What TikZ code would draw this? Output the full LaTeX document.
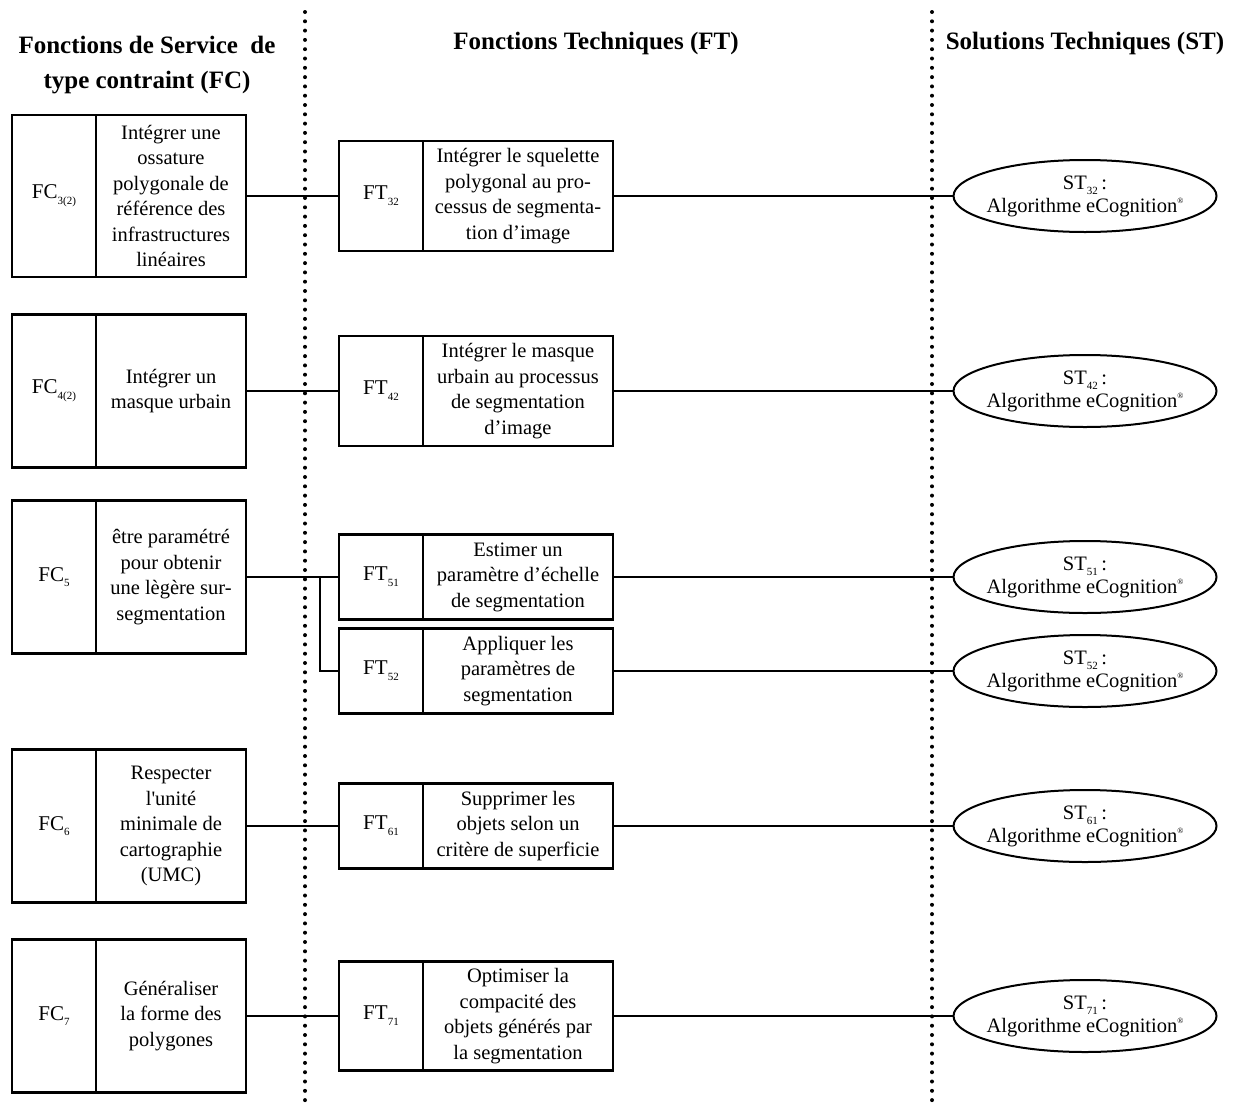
\documentclass[tikz,border=0pt]{standalone}
\usepackage{fontspec}
\setmainfont{Liberation Serif}
\usetikzlibrary{shapes.geometric, positioning}

\newcommand{\lowix}[1]{\raisebox{-0.6ex}{\fontsize{11}{11}\selectfont #1}}
\newcommand{\upreg}{\raisebox{0.9ex}{\fontsize{8}{8}\selectfont\textregistered}}

\begin{document}
\begin{tikzpicture}[x=1pt,y=-1pt,
    idbox/.style={draw, line width=2.6pt, minimum width=84pt, inner sep=0pt, font=\fontsize{21}{25}\selectfont},
    fcbox/.style={draw, line width=2.6pt, minimum width=150pt, inner sep=0pt, align=center, font=\fontsize{20.5}{25.5}\selectfont},
    ftbox/.style={draw, line width=2.6pt, minimum width=190pt, inner sep=0pt, align=center, font=\fontsize{20.5}{25.5}\selectfont},
    stell/.style={draw, ellipse, line width=2pt, minimum width=263pt, minimum height=72pt, inner xsep=-8pt, inner ysep=0pt, align=center, font=\fontsize{20.5}{23}\selectfont},
    head/.style={align=center, font=\bfseries\fontsize{25}{35}\selectfont},
    link/.style={line width=1.8pt},
    sep/.style={line width=4pt, line cap=round, dash pattern=on 0pt off 9.3pt}]
    \useasboundingbox (0,0) rectangle (1243,1106);

    % column separators
    \draw[sep] (305,12) -- (305,1106);
    \draw[sep] (932,12) -- (932,1106);

    % headings
    \node[head] (hfc) at (147,65) {Fonctions de Service \ de\\type contraint (FC)};
    \node[head] (hft) at (596,43) {Fonctions Techniques (FT)};
    \node[head] (hst) at (1085,43) {Solutions Techniques (ST)};

    % FC column
    \node[idbox, minimum height=162pt] (fc3) at (54,196) {FC\lowix{3(2)}};
    \node[fcbox, minimum height=162pt] (fc3d) at (171,196) {Intégrer une\\ossature\\polygonale de\\référence des\\infrastructures\\linéaires};
    \node[idbox, minimum height=153pt] (fc4) at (54,391) {FC\lowix{4(2)}};
    \node[fcbox, minimum height=153pt] (fc4d) at (171,391) {Intégrer un\\masque urbain};
    \node[idbox, minimum height=153pt] (fc5) at (54,577) {FC\lowix{5}};
    \node[fcbox, minimum height=153pt] (fc5d) at (171,577) {être paramétré\\pour obtenir\\une lègère sur-\\segmentation};
    \node[idbox, minimum height=153pt] (fc6) at (54,826) {FC\lowix{6}};
    \node[fcbox, minimum height=153pt] (fc6d) at (171,826) {Respecter\\l\textquotesingle unité\\minimale de\\cartographie\\(UMC)};
    \node[idbox, minimum height=153pt] (fc7) at (54,1016) {FC\lowix{7}};
    \node[fcbox, minimum height=153pt] (fc7d) at (171,1016) {Généraliser\\la forme des\\polygones};

    % FT column
    \node[idbox, minimum height=110pt] (ft32) at (381,196) {FT\lowix{32}};
    \node[ftbox, minimum height=110pt] (ft32d) at (518,196) {Intégrer le squelette\\polygonal au pro-\\cessus de segmenta-\\tion d’image};
    \node[idbox, minimum height=110pt] (ft42) at (381,391) {FT\lowix{42}};
    \node[ftbox, minimum height=110pt] (ft42d) at (518,391) {Intégrer le masque\\urbain au processus\\de segmentation\\d’image};
    \node[idbox, minimum height=85pt] (ft51) at (381,577) {FT\lowix{51}};
    \node[ftbox, minimum height=85pt] (ft51d) at (518,577) {Estimer un\\paramètre d’échelle\\de segmentation};
    \node[idbox, minimum height=85pt] (ft52) at (381,671) {FT\lowix{52}};
    \node[ftbox, minimum height=85pt] (ft52d) at (518,671) {Appliquer les\\paramètres de\\segmentation};
    \node[idbox, minimum height=85pt] (ft61) at (381,826) {FT\lowix{61}};
    \node[ftbox, minimum height=85pt] (ft61d) at (518,826) {Supprimer les\\objets selon un\\critère de superficie};
    \node[idbox, minimum height=109pt] (ft71) at (381,1016) {FT\lowix{71}};
    \node[ftbox, minimum height=109pt] (ft71d) at (518,1016) {Optimiser la\\compacité des\\objets générés par\\la segmentation};

    % ST column
    \node[stell] (st32) at (1085,196) {ST\lowix{32}\,:\\Algorithme eCognition\upreg};
    \node[stell] (st42) at (1085,391) {ST\lowix{42}\,:\\Algorithme eCognition\upreg};
    \node[stell] (st51) at (1085,577) {ST\lowix{51}\,:\\Algorithme eCognition\upreg};
    \node[stell] (st52) at (1085,671) {ST\lowix{52}\,:\\Algorithme eCognition\upreg};
    \node[stell] (st61) at (1085,826) {ST\lowix{61}\,:\\Algorithme eCognition\upreg};
    \node[stell] (st71) at (1085,1016) {ST\lowix{71}\,:\\Algorithme eCognition\upreg};

    % links
    \coordinate (fork) at (320,577);
    \draw[link] (fc3d) -- (ft32);
    \draw[link] (fc4d) -- (ft42);
    \draw[link] (fc5d) -- (ft51);
    \draw[link] (fork) |- (ft52);
    \draw[link] (fc6d) -- (ft61);
    \draw[link] (fc7d) -- (ft71);
    \draw[link] (ft32d) -- (st32);
    \draw[link] (ft42d) -- (st42);
    \draw[link] (ft51d) -- (st51);
    \draw[link] (ft52d) -- (st52);
    \draw[link] (ft61d) -- (st61);
    \draw[link] (ft71d) -- (st71);
\end{tikzpicture}
\end{document}
